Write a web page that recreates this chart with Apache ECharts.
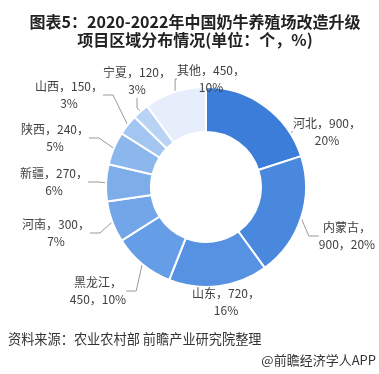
<!DOCTYPE html>
<html><head><meta charset="utf-8">
<script src="https://cdn.jsdelivr.net/npm/echarts@6/dist/echarts.min.js"></script>
<style>html,body{margin:0;padding:0;background:#fff;}#c{width:379px;height:374px;}</style>
</head><body><div id="c"></div>
<script>
var categories = ['河北','内蒙古','山东','黑龙江','河南','新疆','陕西','山西','宁夏','其他'];
var values = [900, 900, 720, 450, 300, 270, 240, 150, 120, 450];
var colors = ['#3b7dd8','#4a88dd','#5792e2','#659de6','#72a6e9','#7eaeea','#8cb7ed','#a3c5f1','#b9d3f4','#e6eefb'];
var breakAfterName = ['内蒙古','黑龙江'];
var labelPos = [[327,132],[347,236],[226,302],[98,291],[56,233],[54,182],[55,138],[69,95],[137,81],[211,79]];

var chart = echarts.init(document.getElementById('c'));
chart.setOption({
  animation: false,
  title: {
    text: '图表5：2020-2022年中国奶牛养殖场改造升级\n项目区域分布情况(单位：个，%)',
    left: 190, top: 8, textAlign: 'center',
    textStyle: {fontSize: 16, fontWeight: 'bold', color: '#222', lineHeight: 18, fontFamily: 'Noto Sans CJK SC'}
  },
  graphic: [
    {type:'text', left: 8, top: 332, style:{text:'资料来源：农业农村部 前瞻产业研究院整理', font:'13.2px "Noto Sans CJK SC"', fill:'#333'}},
    {type:'text', right: 3, top: 354, style:{text:'@前瞻经济学人APP', font:'13px "Noto Sans CJK SC"', fill:'#333'}}
  ],
  series: [{
    type: 'pie',
    center: [206, 187],
    radius: [55, 100],
    startAngle: 90,
    clockwise: true,
    percentPrecision: 0,
    itemStyle: {borderColor: '#fff', borderWidth: 2},
    label: {
      show: true, position: 'outside', overflow: 'none',
      fontSize: 12, color: '#404040', lineHeight: 17, align: 'center',
      fontFamily: 'Noto Sans CJK SC',
      formatter: function(p){
        if (breakAfterName.indexOf(p.name) >= 0) return p.name + '，\n' + p.value + '，' + p.percent + '%';
        return p.name + '，' + p.value + '，\n' + p.percent + '%';
      }
    },
    labelLine: {show: true, length: 10, length2: 10, lineStyle: {color: '#999', width: 1}},
    labelLayout: function(params){
      var p = labelPos[params.dataIndex];
      return {x: p[0], y: p[1], align: 'center', verticalAlign: 'middle'};
    },
    data: categories.map(function(n,i){ return {name: n, value: values[i], itemStyle: {color: colors[i]}}; })
  }]
});
</script></body></html>
